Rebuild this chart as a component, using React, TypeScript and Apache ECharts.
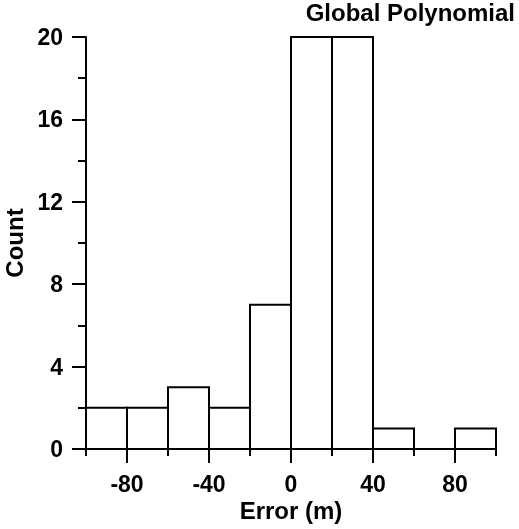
import React, { useEffect, useRef } from "react";
import * as echarts from "echarts";

// Histogram bins (error in metres) and counts per bin
const binStarts = [-100, -80, -60, -40, -20, 0, 20, 40, 60, 80];
const binEnds = [-80, -60, -40, -20, 0, 20, 40, 60, 80, 100];
const counts = [2, 2, 3, 2, 7, 20, 20, 1, 0, 1];

// Labelled x positions (long ticks); short ticks fall halfway between
const xLabelValues = [-80, -40, 0, 40, 80];

const FONT = "'Liberation Sans', Arial, sans-serif";

export default function App() {
  const ref = useRef<HTMLDivElement>(null);

  useEffect(() => {
    if (!ref.current) return;
    const chart = echarts.init(ref.current, null, { renderer: "svg" });

    const data = binStarts.map((s, i) => [s, binEnds[i], counts[i]]);

    const labelStyle = {
      color: "#000",
      fontFamily: FONT,
      fontWeight: "bold" as const,
      fontSize: 23,
    };
    const black2 = { color: "#000", width: 2 };

    chart.setOption({
      animation: false,
      title: {
        text: "Global Polynomial",
        right: 4,
        top: 0,
        padding: 0,
        textStyle: {
          color: "#000",
          fontFamily: FONT,
          fontWeight: "bold",
          fontSize: 24,
        },
      },
      grid: {
        left: 86,
        right: 23,
        top: 37,
        bottom: 80,
        outerBoundsMode: "none",
      },
      xAxis: [
        {
          // short ticks at -100, -60, -20, 20, 60, 100
          type: "value",
          min: -100,
          max: 100,
          interval: 40,
          axisLine: { show: true, onZero: false, lineStyle: black2 },
          axisTick: { show: true, length: 7, lineStyle: black2 },
          axisLabel: { show: false },
          splitLine: { show: false },
        },
        {
          // long ticks with labels, plus the axis title
          type: "value",
          position: "bottom",
          min: -100,
          max: 100,
          interval: 20,
          axisLine: { show: false, onZero: false },
          axisTick: {
            show: true,
            customValues: xLabelValues,
            length: 14,
            lineStyle: black2,
          },
          axisLabel: {
            show: true,
            customValues: xLabelValues,
            margin: 26,
            lineHeight: 18,
            ...labelStyle,
          },
          splitLine: { show: false },
          name: "Error (m)",
          nameLocation: "middle",
          nameGap: 52,
          nameMoveOverlap: false,
          nameTextStyle: { ...labelStyle, fontSize: 24, lineHeight: 18 },
        },
      ],
      yAxis: {
        type: "value",
        min: 0,
        max: 20,
        interval: 4,
        axisLine: { show: true, onZero: false, lineStyle: black2 },
        axisTick: { show: true, length: 14, lineStyle: black2 },
        minorTick: { show: true, splitNumber: 2, length: 8, lineStyle: black2 },
        axisLabel: { margin: 23, ...labelStyle },
        splitLine: { show: false },
        minorSplitLine: { show: false },
        name: "Count",
        nameLocation: "middle",
        nameGap: 58,
        nameTextStyle: { ...labelStyle, fontSize: 24 },
      },
      series: [
        {
          type: "custom",
          data,
          encode: { x: [0, 1], y: 2 },
          renderItem: (params: any, api: any) => {
            const count = api.value(2);
            if (!count) return null;
            const p0 = api.coord([api.value(0), 0]);
            const p1 = api.coord([api.value(1), count]);
            return {
              type: "rect",
              shape: {
                x: p0[0],
                y: p1[1],
                width: p1[0] - p0[0],
                height: p0[1] - p1[1],
              },
              style: { fill: "#fff", stroke: "#000", lineWidth: 2 },
            };
          },
        },
      ],
    });

    return () => chart.dispose();
  }, []);

  return (
    <div
      ref={ref}
      style={{ position: "fixed", left: 0, top: 0, width: 519, height: 529 }}
    />
  );
}
